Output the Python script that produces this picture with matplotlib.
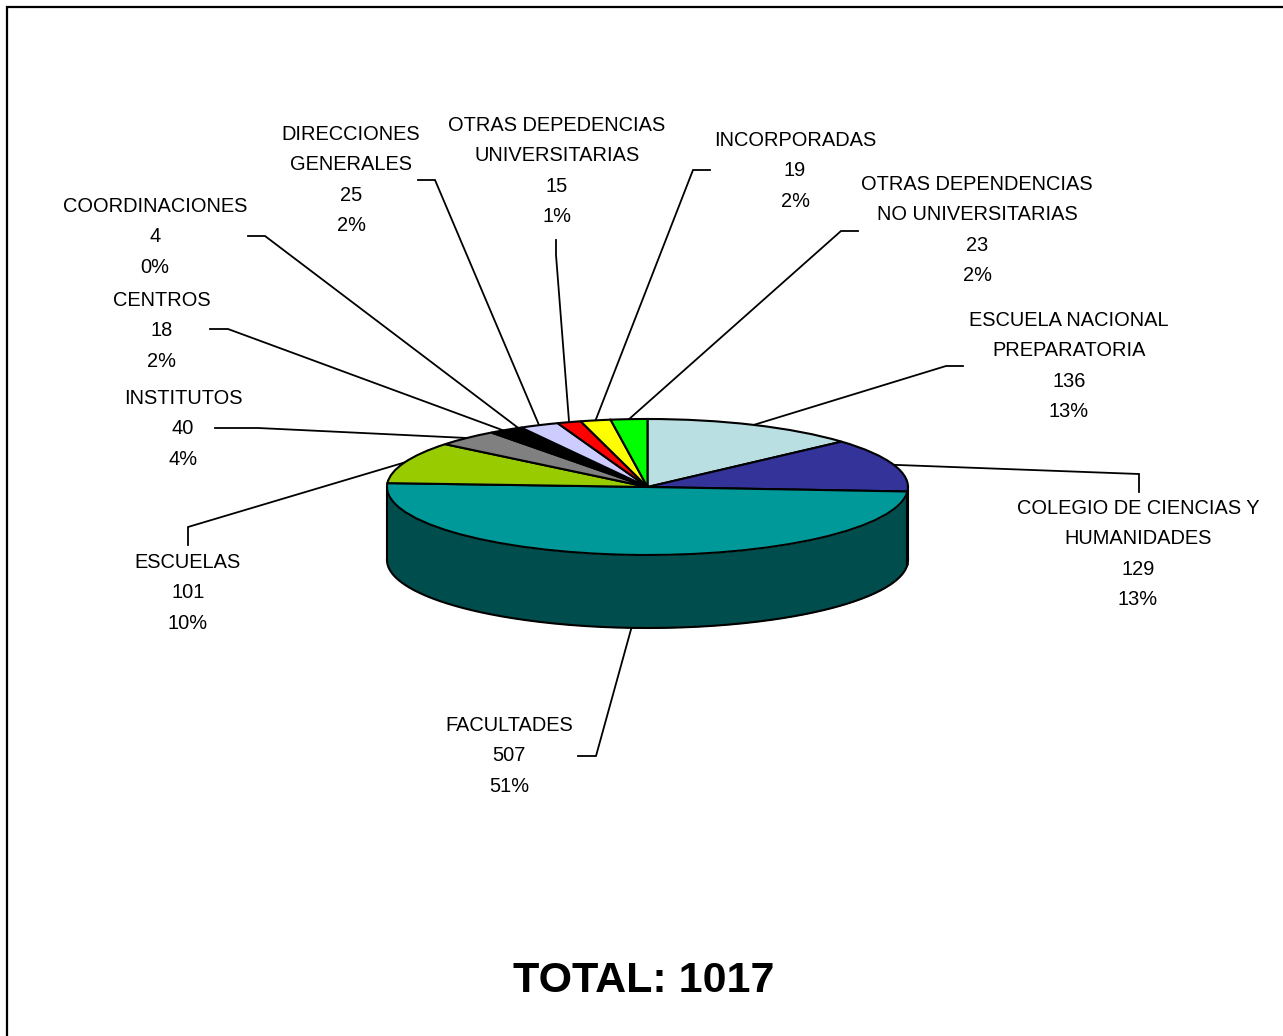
import numpy as np
import matplotlib
matplotlib.use('Agg')
import matplotlib.pyplot as plt

categories = ['ESCUELA NACIONAL\nPREPARATORIA', 'COLEGIO DE CIENCIAS Y\nHUMANIDADES', 'FACULTADES',
              'ESCUELAS', 'INSTITUTOS', 'CENTROS', 'COORDINACIONES', 'DIRECCIONES\nGENERALES',
              'OTRAS DEPEDENCIAS\nUNIVERSITARIAS', 'INCORPORADAS', 'OTRAS DEPENDENCIAS\nNO UNIVERSITARIAS']
values = [136, 129, 507, 101, 40, 18, 4, 25, 15, 19, 23]
percents = ['13%', '13%', '51%', '10%', '4%', '2%', '0%', '2%', '1%', '2%', '2%']
colors = ['#B9DFE3', '#333399', '#009999', '#99CC00', '#808080', '#000000', '#000000',
          '#CCCCFF', '#FF0000', '#FFFF00', '#00FF00']
wall_colors = {1: '#1A1A4D', 2: '#004D4D'}

# pie geometry in pixels
W, H = 1283, 1036
cx, cy, rx, ry, depth = 647.5, 487, 260.5, 68, 73

# label centre x, first line centre y
label_x = [1069, 1138, 509, 188, 183, 162, 155, 351, 557, 795, 977]
label_y = [319, 507, 724, 561, 397, 299, 205, 133, 124, 139, 183]
# leader: stub start, elbow
leader_start = [(963, 366), (1139, 492), (578, 756), (188, 545), (215, 428), (210, 329),
                (248, 236), (418, 180), (556, 240), (710, 170), (858, 231)]
leader_elbow = [(946, 366), (1139, 474), (596, 756), (188, 527), (258, 428), (228, 329),
                (265, 236), (435, 180), (556, 255), (693, 170), (841, 231)]

plt.rcParams['font.family'] = ['Liberation Sans', 'DejaVu Sans']
fig = plt.figure(figsize=(W / 100, H / 100), dpi=100)

# page axes in pixel coordinates, for frame, labels and leaders
ax = fig.add_axes([0, 0, 1, 1])
ax.set_xlim(0, W)
ax.set_ylim(H, 0)
ax.axis('off')
ax.plot([6.5, 6.5, W], [H, 7, 7], color='black', lw=1.6, solid_joinstyle='miter')

vals = np.array(values, dtype=float)
cum = np.cumsum(vals) / vals.sum() * 2 * np.pi
starts = np.concatenate([[0], cum[:-1]])
mids = (starts + cum) / 2

for i, name in enumerate(categories):
    t = mids[i]
    px = cx + rx * np.sin(t)
    py = cy - ry * np.cos(t)
    if np.cos(t) < -0.9:
        py += depth
    sx, sy = leader_start[i]
    ex, ey = leader_elbow[i]
    ax.plot([sx, ex, px], [sy, ey, py], color='black', lw=1.3, solid_joinstyle='miter')
    lines = name.split('\n') + [str(values[i]), percents[i]]
    for j, line in enumerate(lines):
        ax.text(label_x[i], label_y[i] + 30.3 * j + 7, line, ha='center', va='baseline',
                fontsize=14.4, color='black')

ax.text(644, 992, 'TOTAL: 1017', ha='center', va='baseline', fontsize=31, fontweight='bold')

# pie axes cover the ellipse and the wall below it
pie_ax = fig.add_axes([(cx - rx) / W, 1 - (cy + ry + depth) / H, 2 * rx / W, (2 * ry + depth) / H], zorder=3)
d = depth / ry

# side wall, front half only
for i, wall in wall_colors.items():
    t0 = max(starts[i], np.pi / 2)
    t1 = min(cum[i], 3 * np.pi / 2)
    t = np.linspace(t0, t1, 200)
    xs = np.sin(t)
    top = np.cos(t)
    pie_ax.fill_between(xs, top, top - d, color=wall, lw=0)
    pie_ax.plot(xs, top - d, color='black', lw=1.5, clip_on=False)
    pie_ax.plot([xs[0], xs[0]], [top[0], top[0] - d], color='black', lw=1.5, clip_on=False)
    pie_ax.plot([xs[-1], xs[-1]], [top[-1], top[-1] - d], color='black', lw=1.5, clip_on=False)

pie_ax.pie(values, colors=colors, startangle=90, counterclock=False,
           wedgeprops={'edgecolor': 'black', 'linewidth': 1.5, 'clip_on': False})
pie_ax.set_aspect('auto')
pie_ax.set_xlim(-1, 1)
pie_ax.set_ylim(-1 - d, 1)

fig.savefig('out.png', dpi=100)
